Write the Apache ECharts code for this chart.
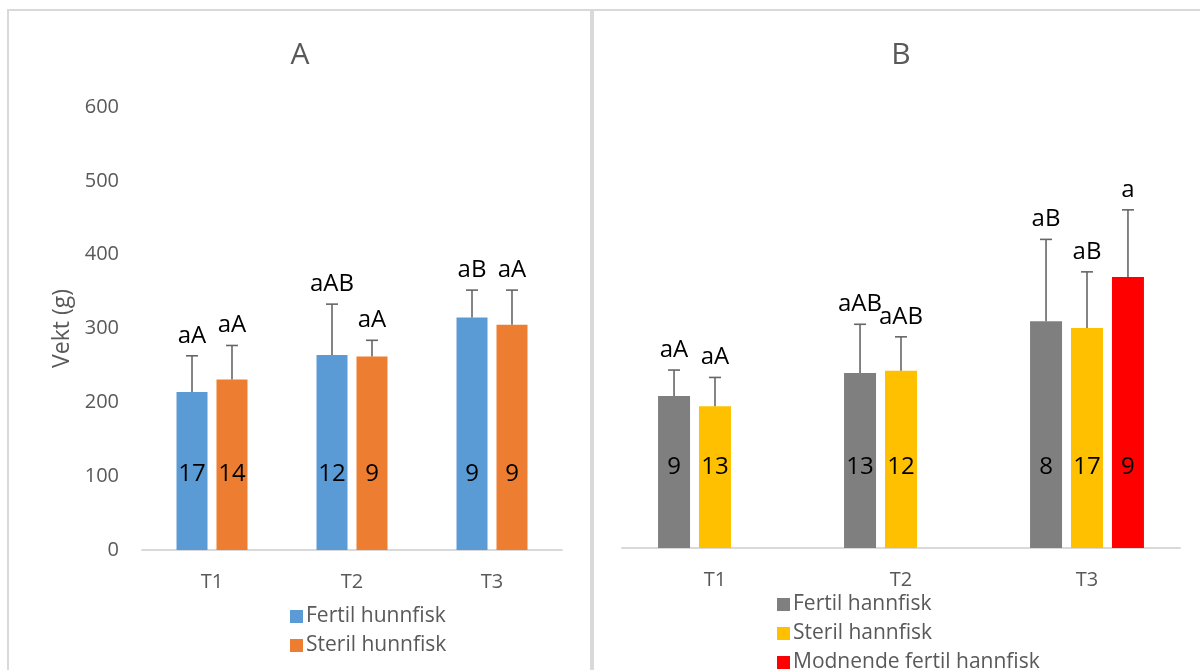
<!DOCTYPE html>
<html>
<head>
<meta charset="utf-8">
<script src="https://cdn.jsdelivr.net/npm/echarts@6/dist/echarts.min.js"></script>
<style>html,body{margin:0;padding:0;background:#fff;}#c{width:1200px;height:670px;}</style>
</head>
<body>
<div id="c"></div>
<script>
// ---- data ----
const categories = ['T1', 'T2', 'T3'];
const yTicks = [0, 100, 200, 300, 400, 500, 600];

// Panel A
const fertilHunnMean = [214, 264, 315];
const fertilHunnSD = [49, 69, 37];
const fertilHunnN = [17, 12, 9];
const fertilHunnLetters = ['aA', 'aAB', 'aB'];

const sterilHunnMean = [231, 262, 305];
const sterilHunnSD = [46, 22, 47];
const sterilHunnN = [14, 9, 9];
const sterilHunnLetters = ['aA', 'aA', 'aA'];

// Panel B
const fertilHannMean = [206, 237, 307];
const fertilHannSD = [35, 66, 111];
const fertilHannN = [9, 13, 8];
const fertilHannLetters = ['aA', 'aAB', 'aB'];

const sterilHannMean = [192, 240, 298];
const sterilHannSD = [39, 46, 76];
const sterilHannN = [13, 12, 17];
const sterilHannLetters = ['aA', 'aAB', 'aB'];

const modnendeMean = [null, null, 367];
const modnendeSD = [null, null, 91];
const modnendeN = [null, null, 9];
const modnendeLetters = [null, null, 'a'];

const legendA = ['Fertil hunnfisk', 'Steril hunnfisk'];
const legendB = ['Fertil hannfisk', 'Steril hannfisk', 'Modnende fertil hannfisk'];

// ---- style ----
const FONT = '"Open Sans", "Noto Sans", sans-serif';
const GRAY = '#595959';
const chart = echarts.init(document.getElementById('c'), null, {renderer: 'canvas'});

function annot(axisIdx, means, sds, ns, letters, pos, count, bw, gap, nY) {
  const data = [];
  means.forEach((m, i) => { if (m != null) data.push([i, m, sds[i]]); });
  return {
    type: 'custom',
    xAxisIndex: axisIdx, yAxisIndex: axisIdx,
    coordinateSystem: 'cartesian2d',
    encode: {x: 0, y: 1},
    z: 5,
    silent: true,
    data: data,
    renderItem: function (params, api) {
      const ci = api.value(0), m = api.value(1), s = api.value(2);
      const base = api.coord([ci, 0]);
      const total = count * bw + (count - 1) * bw * gap;
      const x = base[0] - total / 2 + pos * bw * (1 + gap) + bw / 2;
      const yTop = api.coord([ci, m])[1];
      const yErr = api.coord([ci, m + s])[1];
      const yN = api.coord([ci, nY])[1];
      const lineStyle = {stroke: '#666666', lineWidth: 1.6};
      return {
        type: 'group',
        children: [
          {type: 'line', shape: {x1: x, y1: yTop, x2: x, y2: yErr}, style: lineStyle},
          {type: 'line', shape: {x1: x - 6, y1: yErr, x2: x + 6, y2: yErr}, style: lineStyle},
          {type: 'text', style: {text: letters[ci], x: x, y: yErr - 20, align: 'center', verticalAlign: 'middle',
            fill: '#000', fontSize: 24, fontFamily: FONT}},
          {type: 'text', style: {text: String(ns[ci]), x: x, y: yN, align: 'center', verticalAlign: 'middle',
            fill: '#000', fontSize: 24, fontFamily: FONT}}
        ]
      };
    }
  };
}

function xAxisCfg(grid) {
  return {
    type: 'category', gridIndex: grid, data: categories,
    axisLine: {show: true, lineStyle: {color: '#D9D9D9', width: 2}},
    axisTick: {show: false},
    axisLabel: {color: GRAY, fontSize: 20, fontFamily: FONT, margin: 22}
  };
}

function legendItem(name, left, centerY) {
  return {
    data: [name], left: left, top: centerY - 12,
    icon: 'rect', itemWidth: 13, itemHeight: 13,
    textStyle: {color: GRAY, fontSize: 21, fontFamily: FONT, padding: [0, 0, 0, -2]}
  };
}

const option = {
  backgroundColor: '#fff',
  animation: false,
  grid: [
    {left: 142, width: 420, top: 107, height: 443},
    {left: 622, width: 558, top: 105, height: 443}
  ],
  xAxis: [xAxisCfg(0), xAxisCfg(1)],
  yAxis: [
    {type: 'value', gridIndex: 0, min: yTicks[0], max: yTicks[yTicks.length - 1], interval: 100,
      name: 'Vekt (g)', nameLocation: 'middle', nameGap: 68, nameRotate: 90,
      nameTextStyle: {color: GRAY, fontSize: 23, fontFamily: FONT},
      axisLine: {show: false}, axisTick: {show: false}, splitLine: {show: false},
      axisLabel: {color: GRAY, fontSize: 20, fontFamily: FONT, margin: 23}},
    {type: 'value', gridIndex: 1, min: yTicks[0], max: yTicks[yTicks.length - 1], interval: 100,
      show: false, splitLine: {show: false}}
  ],
  legend: [
    legendItem(legendA[0], 285, 613),
    legendItem(legendA[1], 285, 642),
    legendItem(legendB[0], 772, 601),
    legendItem(legendB[1], 772, 630),
    legendItem(legendB[2], 772, 659)
  ],
  series: [
    {type: 'bar', name: legendA[0], xAxisIndex: 0, yAxisIndex: 0, data: fertilHunnMean,
      barWidth: 31, barGap: '29%', itemStyle: {color: '#5B9BD5'}},
    {type: 'bar', name: legendA[1], xAxisIndex: 0, yAxisIndex: 0, data: sterilHunnMean,
      barWidth: 31, barGap: '29%', itemStyle: {color: '#ED7D31'}},
    {type: 'bar', name: legendB[0], xAxisIndex: 1, yAxisIndex: 1, data: fertilHannMean,
      barWidth: 32, barGap: '28%', itemStyle: {color: '#7F7F7F'}},
    {type: 'bar', name: legendB[1], xAxisIndex: 1, yAxisIndex: 1, data: sterilHannMean,
      barWidth: 32, barGap: '28%', itemStyle: {color: '#FFC000'}},
    {type: 'bar', name: legendB[2], xAxisIndex: 1, yAxisIndex: 1, data: modnendeMean,
      barWidth: 32, barGap: '28%', itemStyle: {color: '#FF0000'}},
    annot(0, fertilHunnMean, fertilHunnSD, fertilHunnN, fertilHunnLetters, 0, 2, 31, 0.29, 103),
    annot(0, sterilHunnMean, sterilHunnSD, sterilHunnN, sterilHunnLetters, 1, 2, 31, 0.29, 103),
    annot(1, fertilHannMean, fertilHannSD, fertilHannN, fertilHannLetters, 0, 3, 32, 0.28, 109),
    annot(1, sterilHannMean, sterilHannSD, sterilHannN, sterilHannLetters, 1, 3, 32, 0.28, 109),
    annot(1, modnendeMean, modnendeSD, modnendeN, modnendeLetters, 2, 3, 32, 0.28, 109)
  ],
  graphic: [
    {type: 'line', shape: {x1: 7, y1: 10, x2: 1200, y2: 10}, style: {stroke: '#D9D9D9', lineWidth: 2}},
    {type: 'line', shape: {x1: 8, y1: 10, x2: 8, y2: 670}, style: {stroke: '#D9D9D9', lineWidth: 2}},
    {type: 'line', shape: {x1: 592, y1: 10, x2: 592, y2: 670}, style: {stroke: '#D9D9D9', lineWidth: 4}},
    {type: 'text', x: 300, y: 55, style: {text: 'A', align: 'center', verticalAlign: 'middle',
      fill: GRAY, fontSize: 30, fontFamily: FONT}},
    {type: 'text', x: 901, y: 55, style: {text: 'B', align: 'center', verticalAlign: 'middle',
      fill: GRAY, fontSize: 30, fontFamily: FONT}}
  ]
};
chart.setOption(option);
</script>
</body>
</html>
